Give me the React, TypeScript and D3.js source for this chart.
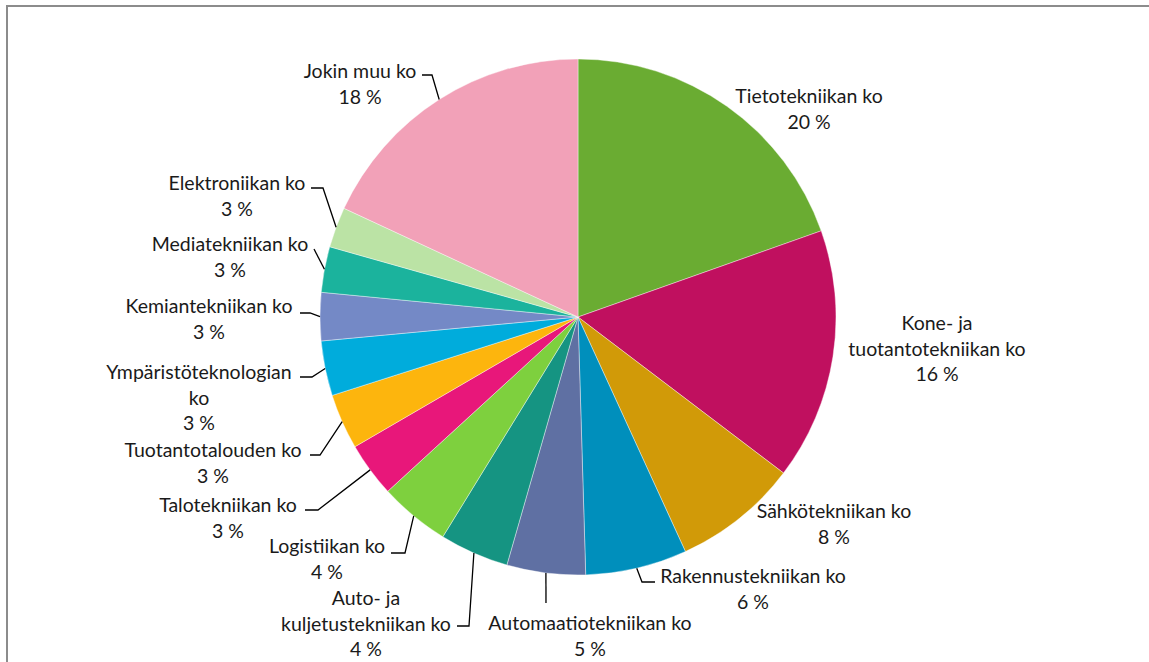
import React from 'react';
import * as d3 from 'd3';

// share of respondents by field (percent)
const categories = [
  'Tietotekniikan ko',
  'Kone- ja\ntuotantotekniikan ko',
  'Sähkötekniikan ko',
  'Rakennustekniikan ko',
  'Automaatiotekniikan ko',
  'Auto- ja\nkuljetustekniikan ko',
  'Logistiikan ko',
  'Talotekniikan ko',
  'Tuotantotalouden ko',
  'Ympäristöteknologian\nko',
  'Kemiantekniikan ko',
  'Mediatekniikan ko',
  'Elektroniikan ko',
  'Jokin muu ko',
];
const shares = [19.58, 15.75, 7.83, 6.36, 4.92, 4.33, 4.42, 3.42, 3.47, 3.43, 3.01, 2.86, 2.53, 18.08];
const colors = [
  '#6aac32', '#c0105f', '#d19a08', '#008fbc', '#5f70a3', '#159482', '#7ed03e',
  '#e8177a', '#fdb50d', '#00acdc', '#7489c6', '#1bb39d', '#bbe3a5', '#f2a1b8',
];

// label placement: text center x, first line center y, leader elbow + end (null = no leader)
const labelPos: { x: number; y: number; elbow?: [number, number]; end?: [number, number] }[] = [
  { x: 809, y: 96 },
  { x: 937, y: 323 },
  { x: 834, y: 511 },
  { x: 753, y: 576, elbow: [642, 582], end: [655, 582] },
  { x: 590, y: 623, elbow: [546, 603], end: [546, 603] },
  { x: 366, y: 598, elbow: [469, 626], end: [457, 626] },
  { x: 327, y: 546, elbow: [405, 553], end: [391, 553] },
  { x: 228, y: 505, elbow: [318, 510], end: [305, 510] },
  { x: 213, y: 450, elbow: [320, 455], end: [310, 455] },
  { x: 199, y: 372, elbow: [312, 377], end: [300, 377] },
  { x: 209, y: 306, elbow: [310, 313], end: [300, 313] },
  { x: 230, y: 244, elbow: [314, 249], end: [314, 249] },
  { x: 237, y: 183, elbow: [323, 188], end: [311, 188] },
  { x: 360, y: 71, elbow: [432, 75], end: [422, 75] },
];

const W = 1149;
const H = 662;
const cx = 578;
const cy = 317;
const R = 258;
const lineH = 25.5;

export default function App() {
  const pie = d3.pie<number>().sort(null).value(d => d);
  const arcs = pie(shares);
  const arc = d3.arc<d3.PieArcDatum<number>>().innerRadius(0).outerRadius(R);

  return (
    <svg width={W} height={H} style={{ position: 'absolute', left: 0, top: 0 }}>
      <rect x={0} y={0} width={W} height={H} fill="#fff" />
      <rect x={7} y={6} width={W + 20} height={H + 20} fill="none" stroke="#8c8c8c" strokeWidth={2} />
      <g transform={`translate(${cx},${cy})`}>
        {arcs.map((a, i) => (
          <path key={i} d={arc(a) || ''} fill={colors[i]} stroke="#fff" strokeWidth={0.4} />
        ))}
      </g>
      {arcs.map((a, i) => {
        const p = labelPos[i];
        if (!p.elbow || !p.end) return null;
        // leader starts on the rim at the slice's mid angle
        const mid = (a.startAngle + a.endAngle) / 2;
        const sx = cx + R * Math.sin(mid);
        const sy = cy - R * Math.cos(mid);
        const pts = `${sx},${sy} ${p.elbow[0]},${p.elbow[1]} ${p.end[0]},${p.end[1]}`;
        return <polyline key={'l' + i} points={pts} fill="none" stroke="#000" strokeWidth={1.3} />;
      })}
      {categories.map((c, i) => {
        const p = labelPos[i];
        const lines = [...c.split('\n'), `${Math.round(shares[i])} %`];
        return (
          <text
            key={'t' + i}
            textAnchor="middle"
            fontFamily="Lato, sans-serif"
            fontSize={19.5}
            fill="#1a1a1a"
          >
            {lines.map((t, j) => (
              <tspan key={j} x={p.x} y={p.y + j * lineH + 7}>
                {t}
              </tspan>
            ))}
          </text>
        );
      })}
    </svg>
  );
}
